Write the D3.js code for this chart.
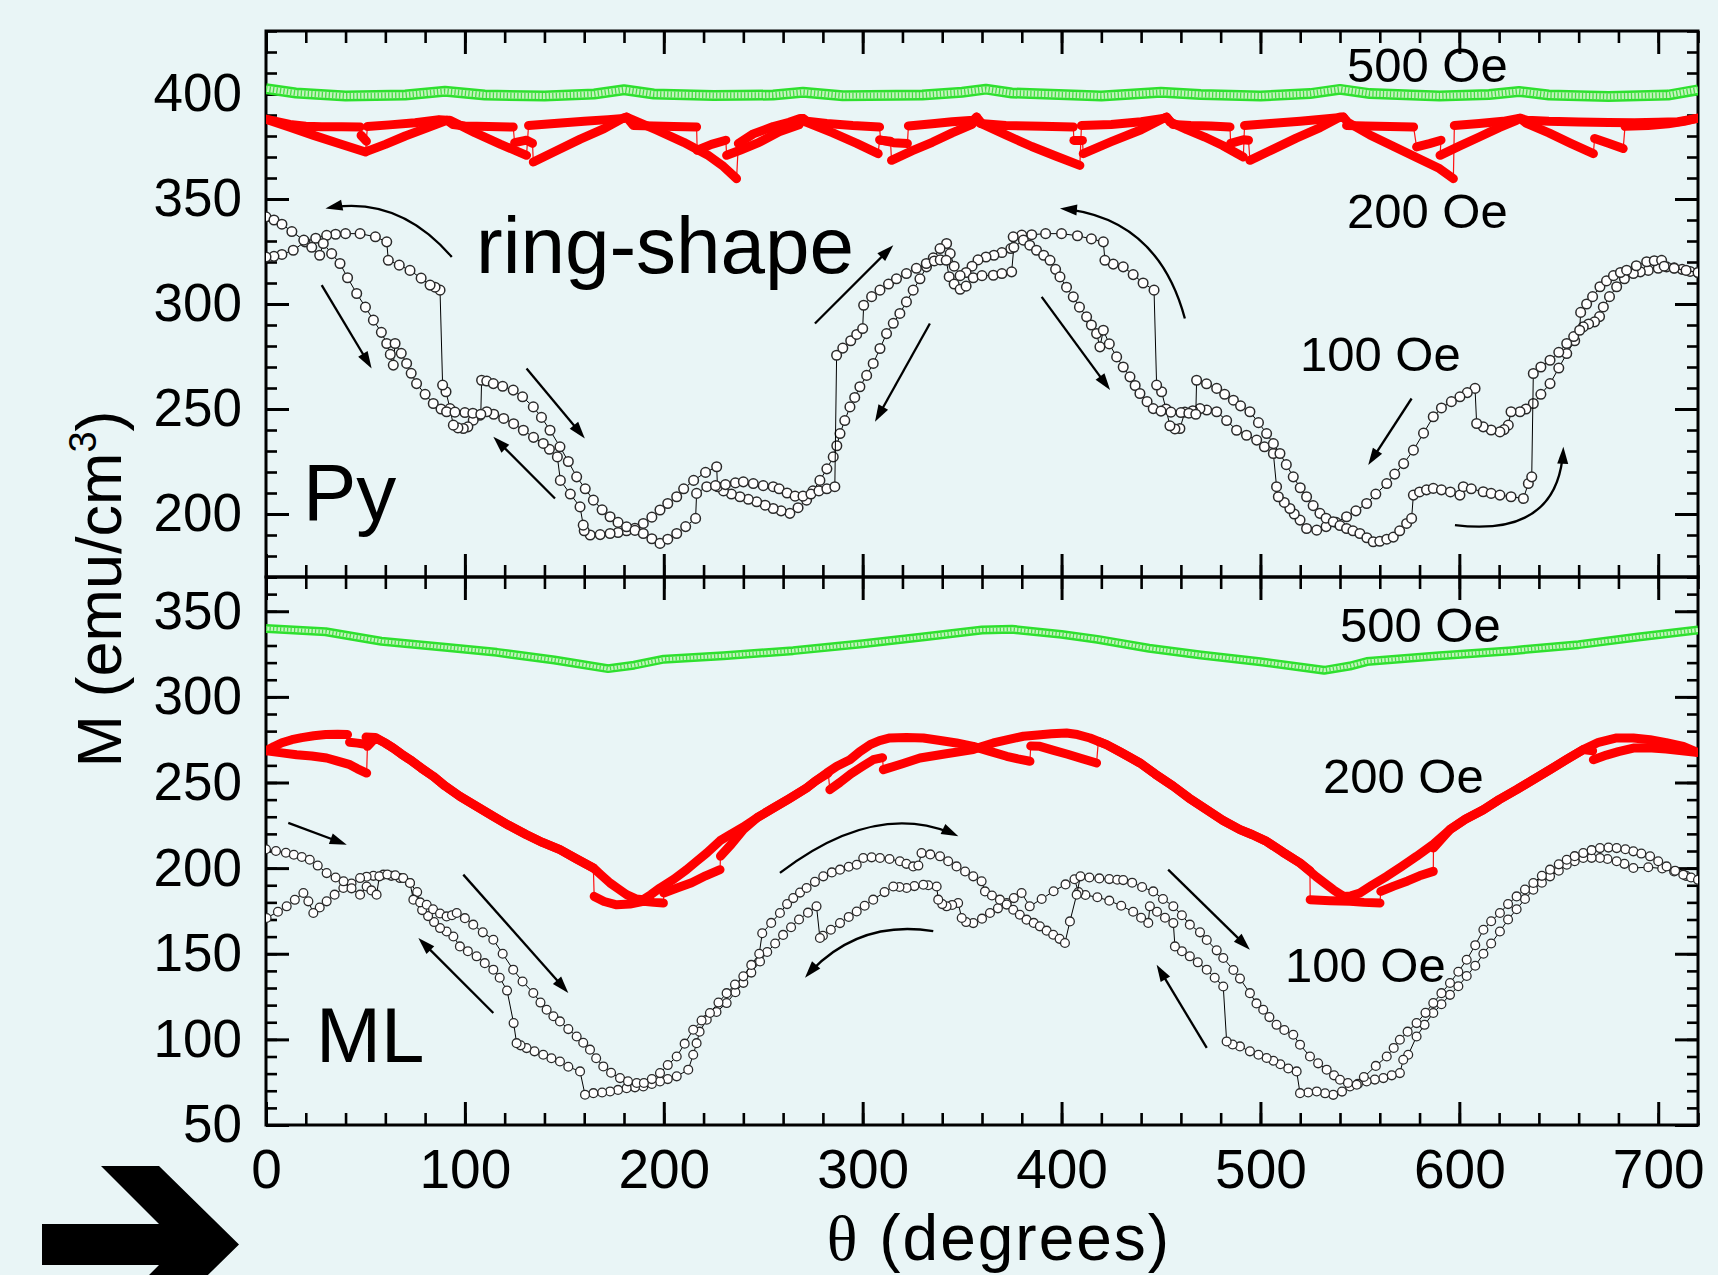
<!DOCTYPE html>
<html>
<head>
<meta charset="utf-8">
<script src="https://cdnjs.cloudflare.com/ajax/libs/d3/7.8.5/d3.min.js"></script>
<style>
body { margin: 0; background: #e9f5f6; }
svg text { font-family: "Liberation Sans", Arial, sans-serif; fill: #000; }
</style>
</head>
<body>
<script>
var WIDTH = 1718, HEIGHT = 1275;

// tick values
var xMajor = [0, 100, 200, 300, 400, 500, 600, 700];
var yMajorPy = [200, 250, 300, 350, 400];
var yMajorML = [50, 100, 150, 200, 250, 300, 350];

// 500 Oe (green)
var greenPy = [[0,402.5],[15,400.5],[40,399],[70,399.5],[90,401.3],[110,399.5],[140,399],[165,400],[180,402],[195,400],[225,399.3],[255,399.5],[270,400.8],[290,399.2],[330,399.5],[350,400.8],[362,402.3],[375,400.5],[420,399],[450,400.8],[470,399.8],[500,399],[525,400.2],[540,402.2],[555,400.2],[590,399],[615,399.8],[630,401.2],[645,399.5],[675,398.8],[705,399.5],[720,402]];
var greenML = [[0,340],[30,338],[58,332.5],[90,329],[116,326],[145,321.5],[172,316.5],[185,318.5],[200,322],[230,324],[265,327],[300,331],[330,335],[360,339],[375,339.5],[400,336.5],[418,333.6],[444,328.4],[470,324.5],[500,320.5],[532,315.5],[545,318],[553.5,320.6],[590,324],[626.5,327],[660,330.5],[690,335],[720,339]];

// 200 Oe (red), sweep order
var redPyFwd = [[0,388],[12,384.2],[24,380.3],[37,376.3],[50,372.4],[51,384.5],[62,385.3],[75,386.3],[87,387.8],[91,387.5],
[92.5,387.5],[105,381.6],[118,376],[131,370.8],[132,385],[145,386],[160,387],[172,387.8],[179.6,388.3],[181.3,389],
[183,388.3],[196,383],[210,377],[222,371],[230,365.5],[236.6,359.7],[237.5,376.4],[245,381],[255,384.5],[263,386.5],[268.5,388.3],[270,388.3],
[271.8,386.5],[285,381.5],[297,376.5],[307.8,371.6],[308.5,378.2],[315.4,376.8],[322.5,376.4],[323,384.8],[335,385.8],[345,386.8],[355.6,387.5],[357.3,389],
[360,385.8],[372,380.5],[385,375],[397,370.5],[409.2,366],[410,385],[425,385.5],[440,386.8],[451,388.3],[452.8,389],
[454.5,386.7],[463,383],[472,379.5],[481,375.5],[491.4,370],[492,385],[505,386],[520,387],[535,388.3],[541.7,389],
[544,386.5],[555,380.5],[567,375],[579,369.5],[590,364.5],[597,359.7],[597.5,385],[610,386],[622,387],[630.5,388.5],
[633.8,386],[645,381.5],[656,376.5],[667.4,371.6],[668,378.8],[675,376.5],[682.4,374],[683.3,384.6],[695,385],[705,385.8],[713,387],[720,388.5]];
var redPyBack = [[720,388.5],[710,386.8],[700,386.5],[688,386.3],[675,386.4],[660,386.7],[645,387],[634,387.5],[630.5,388.5],
[628.8,387.5],[620,384],[610,379.5],[600,375.2],[590.3,370.8],[590.8,378],[585,376.4],[578.5,374.8],[577,384.3],[565,384.5],[553,384.8],[543.3,385],[541.7,389],
[540,389],[530,384],[518,379],[506,373.5],[494.7,368.4],[494,378],[491.4,378.2],[485,376.5],[484.7,384.3],[475,384.8],[465,385],[456,385.5],[452.8,389],
[451.1,388.3],[440,383],[425,377.3],[410.9,371.6],[410.5,377.9],[406.2,377.9],[405.9,384.3],[390,384.6],[372,385],[359,386],[357.3,389],
[355,385.5],[345,381.5],[335,377],[325,373],[314.5,368.4],[314,377.5],[309,378],[308.5,384.3],[295,385],[282,386],[272,387],[270,388.3],
[268,385.3],[258,382],[248,377],[238.3,373.2],[231.6,370.8],[231.2,378],[224,376],[216.8,373.2],[216.5,384.3],[205,384.5],[195,384.8],[184.7,385],[181.3,389],
[179.6,388.5],[170,383.5],[158,378.5],[146,373],[134.4,367.6],[134,376.5],[131,378],[125,376.8],[124.3,384.3],[112,384.5],[100,384.8],[94,385.5],[91,387.5],
[89,386.8],[80,383.5],[70,380],[60,376],[51,372.8],[50.5,377.5],[47.8,380.3],[47.3,384.3],[38,384.4],[28,384.4],[20,384.6],[12,385.5],[5,387],[0,388]];
var redMLFwd = [[0,268.5],[4,271],[8,273.2],[13,275],[18,276.2],[24,277.3],[30,278],[36,278.2],[41,278],[42,273.5],[46,273],[49,272.5],[50.3,276.5],[55,276.3],[60,273],[64,270.1],[68,266.7],[72.4,263.3],[78,258.5],[84.1,253.6],[90,248],[97.5,241.9],[105.9,236.1],[114.3,230.2],[122,225],[131,219.5],[139,215],[147.8,210.8],[156,205.5],[164.6,200.1],
[165,183.5],[170,180.5],[176.3,178.6],[183,179],[189.7,180.6],[195,180],[199.8,179.6],[200,185.5],[207,188.5],[214,191.5],[221,195.5],[228.3,199.1],[228.5,207],[234,214],[240,222.5],[247,229.5],[255,235],[263,240.5],[271.8,246.8],[276.5,251],[281.9,255.5],[287,259.5],[293.6,263.3],[298.5,268],[303.7,272.1],[308.5,274.5],[313.7,276],[322,276.3],[330.5,276],[339,274.5],[347.2,273.1],[355.6,271.1],[364,268.2],[372.4,265.3],[378,263.8],[384.1,262.4],
[384.5,271.3],[389.1,271.1],[396,268.8],[403,266.5],[410,264],[417.6,261.4],[418.5,274],[422.6,272.1],[430,267.5],[439.4,261.4],[447,255],[456.2,247.8],[464,241],[473,234.1],[481,228],[489.7,222.5],[496,219.5],[503.1,215.6],[511,209.5],[519.9,203],[524.9,198.5],
[525,181.6],[535,181],[545,180.6],[552,180],[560.1,179.6],[560.5,186.4],[567,189.5],[574,192.5],[580,195.5],[586.9,198.1],[587,211.7],[595.3,222.5],[603,228.5],[612.1,234.1],[620,240],[628.8,245.8],[637,251.5],[645.6,257.5],[654,263.5],[662.3,269.2],[670,273.5],[679.1,276],[687.5,276],[695.9,275],[704,273.3],[712.6,271.1],[720,267.5]];
var redMLBack = [[720,267.5],[712,268.5],[704,269.5],[695,270.3],[687.5,270.1],[680,268],[674,266],[667.4,263.3],[667,268.5],[662.3,269.2],[654,263.5],[645.6,257.5],[637,251.5],[628.8,245.8],[620,240],[612.1,234.1],[603,228.5],[595.3,222.5],[587,214],[578.5,206.9],[571,201],[563.5,195.2],[556,190],[550,185.5],[545.5,183.8],[541.7,183.5],[536.6,187.4],[528,195],[519.9,203],[511,209.5],[503.1,215.6],[496,219.5],[489.7,222.5],[481,228],[473,234.1],[464,241],[456.2,247.8],[447,255],[439.4,261.4],[430,267.5],[422.6,272.1],[414.3,276],[408,278],[402.5,278.9],[395,278.5],[388,277.8],[380.8,277],[373,275],[365.7,273.1],[360,271],[355.6,269.2],[342,266.8],[328.8,264.3],[320,261],[310.4,257.5],
[310,264.5],[305.3,263.3],[300,259.5],[294,255],[288.5,250],[283.5,245.8],[282.7,255.5],[276.5,251],[271.8,246.8],[263,240.5],[255,235],[247,229.5],[240,224],[234,220],[228.3,216],[221.6,208.8],[216,203.5],[211.5,199.1],[205,193.5],[198.1,188.4],[193.5,184.5],[189.7,181.6],[186,182],[181.3,184.5],[177,188],[173,191.3],[168.5,196],[164.6,200.1],[156,205.5],[147.8,210.8],[139,215],[131,219.5],[122,225],[114.3,230.2],[105.9,236.1],[97.5,241.9],[90,248],[84.1,253.6],[78,258.5],[72.4,263.3],[68,266.7],[64,270.1],[60,273],[55,276],[51,271.1],
[50.6,255.5],[46,258],[42.2,260.4],[36,262.5],[30.5,264.3],[23,265.5],[15.4,266.2],[8,267.3],[0,268.5]];

// 100 Oe (open circles), sweep order
var openPyFwd = [[0,341.5],[4,340],[8,338],[13,334.5],[19,330.4],[23,327],[27,323.2],
[28.8,328.8],[33,324],[37.2,319.3],[41,312.5],[45.6,305],[50,298.5],[54,292.3],[58,286.5],[60.7,281.2],[62.5,276],[64,270.9],
[64.9,281.2],[68,276.5],[70.7,271.7],[73,267],[75.7,262.1],[80,257],[84.1,252.6],[88,250],[90.8,248.7],[95,248.5],[100,248.3],[104,248],[108,247.5],
[108.4,263.7],[111,263.3],[114.3,262.1],[119,260.8],[124.3,259],[129,255.8],[134.4,251],[138.5,246],[142.8,239.9],[147.8,232],[152,225],[156.2,217.7],[160.5,212],[164.6,206.6],[169,202],[173,198.7],[177,196],[181.3,193.9],[185.5,192.2],[189.7,190.7],[194,188.2],[198.1,186],[202,188],[206.5,190.7],[211,194],[216,197.9],
[216.5,209.8],[221.6,213],[226,213.5],[231,214],[236,214.8],[240,215.3],[245,214.5],[250,213.5],[255,213],[258,212],[262,210],[266,208.5],[270,208.5],[274,209.5],[278,211],[282,212],[286,213],
[286.9,275.6],[290,279],[294,282.5],[297,285.5],[300,288.3],
[300.5,299.4],[304.5,303.5],[308.7,306.6],[313,309.5],[317,312],[322,314.5],[327,317],[332,319.3],[336,320.5],[339,321],[342,320.8],
[343.5,313],[346,309.5],[349,307],[352,308.5],[355.6,312.5],[360,313.5],[365.7,313.7],[370,314.5],[374.9,315.3],
[376,327],[380.8,330.4],[384,328],[387.4,325.6],[391,323.2],[394.2,320.8],[397,316.5],[399.2,312.9],[402.5,308],[405.9,303.4],[409,298.5],[412.6,293.9],[415,290],[417.6,285.9],[419.3,279.6],
[421,287.5],[424,281],[427.7,274.8],[431,270],[434.4,265.3],[437,261.2],[439.4,257.4],[443,253.5],[446.1,250.2],[450,249],[455,248.5],[460,248.3],[464,248],[467.5,247.5],
[467.9,263.7],[472.9,262],[478,259.8],[482,257],[486.4,254.2],[490,251.5],[494.7,248.7],[499,243.5],[503.1,238.3],[506.5,233.5],[509.8,228.8],[513,223.5],[516.5,217.7],[520,212.5],[523.2,208.2],[526.5,204],[529.9,200.3],[533,198],[536.6,196.3],[540,194.5],[543.3,193.1],[546.5,192],[550,190.7],[553.5,188.7],[556.7,186.8],[560,187],[563.5,188],[566.8,189],[570,192],[573.5,195.5],[576,197.9],
[576.9,209],[580,210.5],[583.5,211.5],[586.9,212.2],[591,211.5],[595.5,210.5],[600.3,209],[602,213],[606,212],[612,210.6],[616,209.8],[620.4,209],[626,208.2],[632.2,207.4],[634.7,214.5],[636.4,217.7],
[637.2,266.9],[641,270],[645.6,273.2],[650,277],[654,281.2],[657.5,284.5],[660.5,287.5],
[661,296],[664,300],[667,303.5],[670.7,308.2],[674,311],[677.5,313.5],[681,315],[684.1,316.1],[689,318.2],[694.2,320.1],[698,320.6],[701.7,320.8],
[703,318],[708,317],[714,316],[720,315]];
var openPyBack = [[720,315],[716,315.5],[712,316.5],[708,317.2],[704.2,317.7],[700,317],[695,316],[691,315.3],[687.5,314.5],[683,312],[679.1,308.2],[675.5,303.5],[672.4,298.6],[670.5,294],
[668,291.5],[665,290.5],[662.3,289.1],[658,282.5],[654,276.4],[650,269.5],[645.6,262.1],[641,257],[637.2,252.6],[633.5,250],[630.5,248.7],[626,248.7],
[624.6,242.3],[622.5,240.2],[620.4,239.1],[616,240],[612,241.5],[608.7,243.1],
[607.9,259.8],[604,257.8],[600.3,255.8],[596,253.5],[591,250.5],[586.9,246.3],[582,238.5],[576.9,230.4],[572,224],[567.5,219],[563.5,214.5],[558,209.5],[553.4,205],[548,201.5],[543.3,198.7],[538,196],[533,194],[528.3,192.3],[523.2,193.1],[519.9,197.1],[517,200],[514.8,202.6],[512,205.5],[509,208.2],[508.1,213],
[506.5,228.8],[502,232],[498.1,235.2],[493,237.5],[488,239.9],[483,244.5],[478,248.7],[473,249.5],[469.6,250.2],[466,249.2],[462,248.5],
[459.5,240.7],[457,240.5],[454.5,242],[452.5,250],[450.3,258.2],[447.8,261.4],
[446.5,306.6],[441,310],[436,314],[431,317.7],[426,319],[421.8,320.8],
[421,329.6],[415,331],[408,332.5],[400,333.5],[392,333.5],[385,333],[380,332.8],[375.7,332],
[374.5,326.4],[370,324.5],[366,323.2],[362,322.4],[358,321],[355,318],[352,315],[349,313.5],[346,318],[344,324],[342.2,328.8],
[338.9,326.4],[335.5,322],[332.1,317.7],[328.8,312],[325.4,306.6],[322,301],[318.7,295.5],[315.4,290.8],[312,285.9],[308.7,278.8],[305.3,271.7],[302,266],[298.6,260.6],[296,255.5],[293.6,251],[291,244.5],[288.6,238.3],[287,232.5],[285.2,227.2],[282,221.5],[278.5,216],[275,211],[271.8,206.6],[267.5,203],[263.4,200.3],[259,201.5],[255,202.6],[251,204.2],[246.7,205.8],[242.5,207],[238.3,208.2],[234,209.5],[230,211],[227,213],
[226.6,222.5],[221,219.8],[215,216],[210,212],[206.5,208.2],[202,205],[198.1,201.9],[194,198.5],[189.7,195.5],[185.5,193.2],[181.3,192],[177,191.2],[173,190.7],[168,190.2],[163,190],[160,192],[159.5,194.7],
[157.9,203.4],[153,209.5],[148,216],
[146.5,227.2],[142.5,230.8],[139.4,233.6],[134.5,236.5],[129.4,239.9],[124.5,243],[119.5,245.5],[114.5,247.5],[111,248.7],[107.5,247],[104.2,244.7],[101.5,241.5],[99.2,240.7],[96.5,241],[94.2,242.3],
[92.5,250.2],[90.5,258.2],[88.8,261.4],
[87.5,306.6],[85,308],[82.5,309],[78,312.3],[72.4,316],[67,318.5],[61.5,320.8],
[60.7,329.6],[55,332],[47.3,333.5],[40,333.5],[35,333.2],[30.5,332.7],[25,331.3],[19.6,329.6],[13.7,325.6],[8,323.6],[4,322.7],[0,322.4]];
var openMLFwd = [[0,211],[5,210],[10,209],[14,207.8],[18,206.5],[22,204.9],[26,201.5],[30.5,197.1],[35,194.5],[39,192.3],[43,188.2],[47.3,184.5],
[50.6,189.3],[53,187],[55.6,184.5],
[57,195.2],[61,196.3],[65,195.8],[69,194.2],[72.4,191.3],
[74.1,181.6],[77.5,180],[80.8,178.6],[84,176],[87.5,173.5],[90.8,171.8],[93.5,172.5],[95.9,173.8],
[100,170.8],[104.2,167],[109,162.5],[114.3,158.2],[119,150],[124.3,140.7],[129,133.8],[134.4,127.1],[138,121.5],[141.1,117.3],[144.5,113.5],[147.8,110.5],[152,106],[156.2,101.7],[159.5,98],[162.9,94],[166,89],[169.6,84.2],[173.5,80.5],[178,77.4],[182,75.5],[186.4,74.5],[190,74.5],[194,76.8],[198.1,80.3],[202,85],[206.5,90],[210.5,97.5],[214.8,105.6],[219,111],[223.2,115.4],[227.5,121.5],[231.6,127],[235.8,132],[240,136.8],[244,143.5],[248,150],
[249.5,162],[254,168],[258.4,173.8],[262,179],[265.1,182.5],[268.5,185.7],[271.8,188.4],[276,192],[280.2,195.2],[284.5,197.5],[288.6,199.1],[293,200.8],[297,202],
[300.3,205.9],[304.5,206.3],[308.7,205.9],[313.5,205.3],[318.7,204],[322,202.5],[325.4,201],[328,201.5],
[329.6,208.8],[334,208],[338.9,206.9],[343,204],[347.2,201],[351.5,198],[355.6,195.2],[359.8,192.3],
[361.5,186.4],[365,184],[369,181.6],[372.4,178.7],[375.7,175.7],[379,172.8],[382.4,169.9],[386,168],[389.1,166],[392.5,163.5],[395.8,161.1],[399,158.7],[401.7,156.3],
[404.2,168.9],[407.6,184.5],
[409.5,195.2],[414,194.5],[419,194],[424,193.6],[428,193.2],[431,193],[435.5,191.5],[440.5,189],[446.1,186.4],[451,182],[456.2,177.7],[460.5,172.5],[464.5,167],[469.6,162.5],[473,158],[478,152],[481.3,147.5],[486.4,140.5],[489.7,135.5],[494.7,127],[498,121],[501.4,117.3],[504.5,113],[508.1,108.5],[512,105.5],[516.5,102.7],[519.9,96.9],[524.9,90],[529,86],[533.3,82.3],[537,79],[540,76.4],[544,74.5],[548.4,73.5],
[552,78],[558,84.5],[563.5,90],[567,95],[570.1,99.8],[574,104.5],[578.5,109.5],[583,115.5],[586.9,121.2],[591,127],[595.3,132.9],[599.5,139.5],[603.7,146.5],[608,155],[612.1,164],[616,169],[620.4,173.8],[624.5,179],[628.8,183.5],[633,187.5],[637.2,191.3],[641.5,195.5],[645.6,199.1],[650,202.2],[654,204.9],[658,207],[662.3,208.8],[666.5,210.5],[670.7,211.7],[675,212],[679.1,211.7],[683.5,211],[687.5,209.8],[691.5,208.5],[695.9,206.9],[700,204],[704.2,201],[708.5,198.5],[712.6,196.2],[716.5,194.5],[720,193.2]];
var openMLBack = [[720,193.2],[714,195.5],[708,198],[702,199.8],[695,200.5],[687.5,200.1],[683,202.5],[679.1,204],[674.5,205.3],[670.7,205.9],[666.5,206],[662.3,205.9],[658,204],[654,202],[650,198.5],[645.6,195.2],[641.5,191.5],[637.2,187.4],[633,182],[628.8,176],[624.5,170],[620.4,163],[616,156],[612.1,150],[608,143],[603.7,137],[599.5,131],[595.3,126],[591,120.5],[586.9,115.4],[582.5,108.5],[578.5,101.7],[574.3,91],[571.8,88.1],
[570.1,80.3],[566,79],[561.8,77.4],[557.5,76.5],[553.4,75.4],[549,74],[545,72.5],[541,69.5],[536.6,67.6],[532.5,68.5],[528.3,69.6],[524,69],[519.9,68.6],
[518.2,81.3],[514,83],[510,85.5],[506.5,87.5],[503.1,89.1],[499,91],[494.7,93],[489.7,95.9],[486,97],[483,98.8],
[481.3,130.9],[477,136],[473,140.7],[468.5,145],[464.5,148.5],[460.5,151.5],[457,154.3],
[456.2,167.9],[452,171],[448,174.5],[444.4,177.7],
[443.6,168],[440,171],[436,174.5],[430,178],[424,181],[418,183],[412,184.3],[408.5,186],
[406.5,193.5],[402,190.5],[396,186.5],[390,182],[384,177.7],
[379.9,185.5],[376,182.5],[372.4,179.6],[368,176.5],[364,173.8],[360,170.5],[355.6,167.9],[352,168.5],[349.8,170.9],
[348,179.6],[345,178.5],[342.2,177.7],[340,179],[338,181.6],
[337.2,189.3],[333,190],[330.5,190.3],[326,189.5],[322.1,188.4],[318.5,189],[315.4,189.3],[311,186],[305.3,181.6],[301,178],[297,174.7],[293,171.5],[288.6,167.9],[284,164],[280,160.5],[278.5,159.2],
[276.8,177.7],[272.5,174],[268,170],[264,165.5],[260,161],[256,156],[252,151],[248.4,145.5],[244,139],[240,133],[236,127.5],[231.6,121.2],[226.5,116],[221.6,111.5],[218,104.5],[216.5,97.8],[214.8,91],
[212.3,82.3],[206.5,78.4],[202,76.8],[198.1,75.4],[194,74],[189.7,72.5],[185.5,72],[181.3,71.5],[177,70.5],[173,69.6],[169,69],[164.6,68.6],[160.4,67.7],
[157.9,81.3],[152,84],[147.8,87.1],[143.5,89],[139.4,91],[135,93],[131,94.9],[128,96.5],[126,97.8],[124.5,109.5],
[121.2,128.5],[117.5,136],[114.3,140.7],[110,144.5],[105.9,148.5],[101.5,151.5],[97.5,154.3],[94.2,160.1],[90.8,163],[87.5,165],[84.5,168.5],[81.5,172],[78.5,175.5],
[76,186],[72.4,191.3],[67.4,194.2],[63,195.5],[59,196.2],[54,195.5],[50.6,195],[47.3,194.2],[43,191],[38.9,188.4],[34.5,184.5],[30.5,180.6],[27,177],[23.8,173.8],
[21.3,180.6],[18.8,185.5],[14.5,181.5],[10.4,177.7],[6,174.5],[0.3,170.9]];

// sweep-direction arrows: [theta1, M1, theta2, M2, (thetaMid, Mmid for curved)]
var arrowsPy = [[93.4,322.4,29.9,345.5,63.9,343.1],[28,309,53.1,269.3],[131,269.3,160.3,236],[145.3,207.4,114.3,236.8],
[276,290.7,315.4,328],[333.8,290.7,306.2,243.9],[462,293.1,399.2,345.5,439.4,330.4],[390,303.4,424.4,259],
[576,255,554.2,223.3],[597.8,194.7,652.3,232,637.8,201]];
var arrowsML = [[11.2,226.4,40.6,213.7],[99.2,196.2,152,127.1],[114.3,115.4,76.6,159.2],
[258.4,197.2,348.1,218.6,305.4,224.4],[335.5,163.2,271,136,300,160],[453.6,199.1,494.7,152.4],[473,95,447.8,143.6]];

var svg = d3.select("body").append("svg")
  .attr("width", WIDTH)
  .attr("height", HEIGHT);

svg.append("rect").attr("width", WIDTH).attr("height", HEIGHT).attr("fill", "#e9f5f6");

var x = d3.scaleLinear().domain([0, 720]).range([266, 1698]);
var yPy = d3.scaleLinear().domain([170, 430]).range([577, 31]);
var yML = d3.scaleLinear().domain([50, 370]).range([1125, 577]);

function styleAxis(g, w) {
  g.select(".domain").remove();
  g.selectAll(".tick line").attr("stroke", "#000").attr("stroke-width", w);
}

function drawFrame(y, id, showX) {
  var top = y.range()[1], bottom = y.range()[0];
  var g = svg.append("g");
  var minorY = d3.range(y.domain()[0], y.domain()[1] + 0.1, 10);
  var minorX = d3.range(0, 721, 20);

  g.append("g").attr("transform", "translate(266,0)")
    .call(d3.axisLeft(y).tickValues(minorY).tickSize(-11).tickSizeOuter(0).tickFormat(""))
    .call(styleAxis, 2.6);
  g.append("g").attr("transform", "translate(1698,0)")
    .call(d3.axisRight(y).tickValues(minorY).tickSize(-11).tickSizeOuter(0).tickFormat(""))
    .call(styleAxis, 2.6);
  g.append("g").attr("transform", "translate(1698,0)")
    .call(d3.axisRight(y).tickValues(id == "py" ? yMajorPy : yMajorML).tickSize(-23).tickSizeOuter(0).tickFormat(""))
    .call(styleAxis, 3);
  var left = g.append("g").attr("transform", "translate(266,0)")
    .call(d3.axisLeft(y).tickValues(id == "py" ? yMajorPy : yMajorML).tickSize(-23).tickSizeOuter(0).tickPadding(24).tickFormat(d3.format("d")))
    .call(styleAxis, 3);
  left.selectAll("text").attr("font-size", 53).attr("font-family", "Liberation Sans, Arial, sans-serif");

  [top, bottom].forEach(function (yy, i) {
    var fn = i == 0 ? d3.axisTop : d3.axisBottom;
    g.append("g").attr("transform", "translate(0," + yy + ")")
      .call(fn(x).tickValues(minorX).tickSize(-12).tickSizeOuter(0).tickFormat(""))
      .call(styleAxis, 2.6);
    var ax = g.append("g").attr("transform", "translate(0," + yy + ")")
      .call(fn(x).tickValues(xMajor).tickSize(-23).tickSizeOuter(0).tickPadding(24)
        .tickFormat(showX && i == 1 ? d3.format("d") : ""))
      .call(styleAxis, 3);
    ax.selectAll("text").attr("font-size", 55).attr("font-family", "Liberation Sans, Arial, sans-serif");
  });

  g.append("rect").attr("x", 266).attr("y", top).attr("width", 1432).attr("height", bottom - top)
    .attr("fill", "none").attr("stroke", "#000").attr("stroke-width", 3);

  svg.append("clipPath").attr("id", "clip-" + id)
    .append("rect").attr("x", 266).attr("y", top).attr("width", 1432).attr("height", bottom - top);
}

function lineFor(y) {
  return d3.line().x(function (d) { return x(d[0]); }).y(function (d) { return y(d[1]); });
}

function drawGreen(g, y, data, w) {
  var line = lineFor(y);
  g.append("path").datum(data).attr("d", line).attr("fill", "none")
    .attr("stroke", "#2ee02e").attr("stroke-width", w).attr("stroke-linejoin", "round");
  g.append("path").datum(data).attr("d", line).attr("fill", "none")
    .attr("stroke", "#c4f4bd").attr("stroke-width", w - 5);
  g.append("path").datum(data).attr("d", line).attr("fill", "none")
    .attr("stroke", "#44de44").attr("stroke-width", w - 5).attr("stroke-dasharray", "1.3,2.2");
}

// split at jumps (almost no angle change but a clear step in M)
function runs(data) {
  var out = [[data[0]]];
  for (var i = 1; i < data.length; i++) {
    var a = data[i - 1], b = data[i];
    if (Math.abs(b[0] - a[0]) < 2 && Math.abs(b[1] - a[1]) > 2.5) out.push([b]);
    else out[out.length - 1].push(b);
  }
  return out;
}

function drawRed(g, y, data) {
  var line = lineFor(y);
  g.append("path").datum(data).attr("d", line).attr("fill", "none")
    .attr("stroke", "#ff1010").attr("stroke-width", 1.2);
  g.selectAll(null).data(runs(data)).enter().append("path")
    .attr("d", line).attr("fill", "none")
    .attr("stroke", "#ff0000").attr("stroke-width", 9)
    .attr("stroke-linecap", "round").attr("stroke-linejoin", "round");
}

function drawOpen(g, y, data, r, sw) {
  g.append("path").datum(data).attr("d", lineFor(y)).attr("fill", "none")
    .attr("stroke", "#000").attr("stroke-width", 1);
  g.selectAll(null).data(data).enter().append("circle")
    .attr("cx", function (d) { return x(d[0]); })
    .attr("cy", function (d) { return y(d[1]); })
    .attr("r", r)
    .attr("fill", "#fff")
    .attr("stroke", "#2a2a2a")
    .attr("stroke-width", sw);
}

function drawArrows(g, y, list) {
  list.forEach(function (a) {
    var p0 = [x(a[0]), y(a[1])], p2 = [x(a[2]), y(a[3])];
    var c = a.length > 4
      ? [2 * x(a[4]) - (p0[0] + p2[0]) / 2, 2 * y(a[5]) - (p0[1] + p2[1]) / 2]
      : [(p0[0] + p2[0]) / 2, (p0[1] + p2[1]) / 2];
    var ang = Math.atan2(p2[1] - c[1], p2[0] - c[0]);
    var len = Math.hypot(p2[0] - p0[0], p2[1] - p0[1]);
    var t = 1 - 9 / len;
    var c1 = [p0[0] + t * (c[0] - p0[0]), p0[1] + t * (c[1] - p0[1])];
    var e = [(1 - t) * (1 - t) * p0[0] + 2 * (1 - t) * t * c[0] + t * t * p2[0],
             (1 - t) * (1 - t) * p0[1] + 2 * (1 - t) * t * c[1] + t * t * p2[1]];
    g.append("path").attr("d", "M" + p0 + "Q" + c1 + " " + e)
      .attr("fill", "none").attr("stroke", "#000").attr("stroke-width", 2.3);
    var L = 17, W = 5.5;
    var ca = Math.cos(ang), sa = Math.sin(ang);
    var head = [p2, [p2[0] - L * ca + W * sa, p2[1] - L * sa - W * ca], [p2[0] - L * ca - W * sa, p2[1] - L * sa + W * ca]];
    g.append("path").attr("d", "M" + head.join("L") + "Z").attr("fill", "#000");
  });
}

drawFrame(yPy, "py", false);
drawFrame(yML, "ml", true);

var gPy = svg.append("g").attr("clip-path", "url(#clip-py)");
drawGreen(gPy, yPy, greenPy, 11);
drawRed(gPy, yPy, redPyFwd);
drawRed(gPy, yPy, redPyBack);
drawOpen(gPy, yPy, openPyBack, 4.8, 1.5);
drawOpen(gPy, yPy, openPyFwd, 4.8, 1.5);
drawArrows(gPy, yPy, arrowsPy);

var gML = svg.append("g").attr("clip-path", "url(#clip-ml)");
drawGreen(gML, yML, greenML, 9);
drawRed(gML, yML, redMLFwd);
drawRed(gML, yML, redMLBack);
drawOpen(gML, yML, openMLBack, 4.4, 1.3);
drawOpen(gML, yML, openMLFwd, 4.4, 1.3);
drawArrows(gML, yML, arrowsML);

// labels
function label(txt, px, py, size) {
  svg.append("text").attr("x", px).attr("y", py).attr("font-size", size).text(txt);
}
label("500 Oe", 1347, 82, 49);
label("200 Oe", 1347, 228, 49);
label("100 Oe", 1300, 371, 49);
label("ring-shape", 476, 273, 80);
label("Py", 303, 520, 80);
label("500 Oe", 1340, 642, 49);
label("200 Oe", 1323, 793, 49);
label("100 Oe", 1285, 982, 49);
label("ML", 316, 1062, 78);

var xt = svg.append("text").attr("x", 999).attr("y", 1260).attr("font-size", 64)
  .attr("letter-spacing", 2).attr("text-anchor", "middle");
xt.append("tspan").attr("font-family", "Liberation Serif, serif").text("θ");
xt.append("tspan").text(" (degrees)");

var yt = svg.append("text").attr("transform", "translate(121,589) rotate(-90)")
  .attr("font-size", 63).attr("text-anchor", "middle");
yt.append("tspan").text("M (emu/cm");
yt.append("tspan").attr("font-size", 38).attr("dy", -25).text("3");
yt.append("tspan").attr("dy", 25).text(")");

// big arrow, bottom left
svg.append("path")
  .attr("d", "M42,1224 L159,1224 L101,1166 L159,1166 L239,1244.5 L159,1323 L101,1323 L159,1265 L42,1265 Z")
  .attr("fill", "#000");
</script>
</body>
</html>
